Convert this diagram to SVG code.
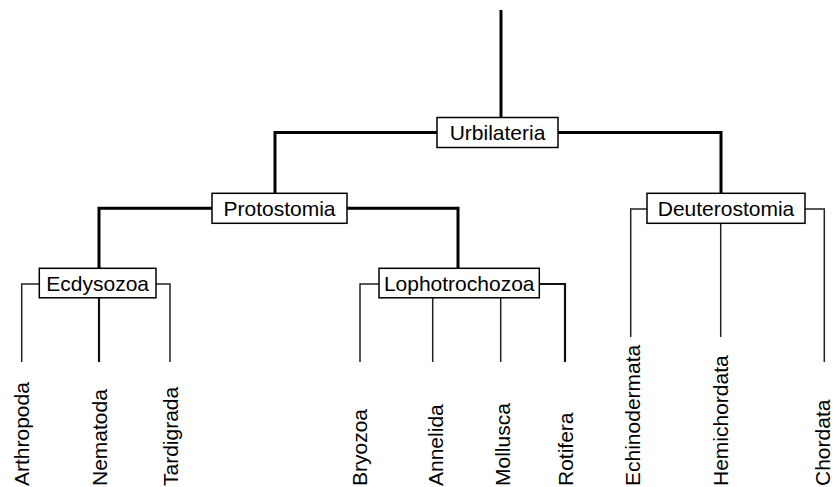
<svg xmlns="http://www.w3.org/2000/svg" width="835" height="487" viewBox="0 0 835 487">
<style>
.box{fill:#fff;stroke:#000;stroke-width:1.5}
.lbl{font-family:"Liberation Sans",Arial,sans-serif;font-size:21px;fill:#000}
.c{text-anchor:middle}
.thick{fill:none;stroke:#000;stroke-width:3}
.thin{fill:none;stroke:#222;stroke-width:1.5}
.mid{fill:none;stroke:#111;stroke-width:2.2}
</style>
<rect width="835" height="487" fill="#fff"/>
<g id="connectors">
<path class="thick" d="M501 10V117"/>
<path class="thick" d="M437 132.5H275V193M558 132.5H721V193"/>
<path class="thick" d="M212 208.3H99V268M347 208.3H458V268"/>
<path class="thin" d="M39 284H21.7V362M156 284H170V362"/>
<path class="mid" d="M99 298V362"/>
<path class="thin" d="M379 284H360V362M432.7 298V362M500.7 298V362"/>
<path class="mid" d="M539 284H565V362"/>
<path class="thin" d="M647 209H630.7V337"/>
<path class="thin" d="M720.7 223V337"/>
<path class="thin" d="M805 209H824.3V362"/>
</g>
<g id="Urbilateria"><rect class="box" x="437" y="117.5" width="121" height="30"/><text class="lbl c" x="497.5" y="140">Urbilateria</text></g>
<g id="Protostomia"><rect class="box" x="212" y="193.3" width="135" height="30"/><text class="lbl c" x="279.5" y="216">Protostomia</text></g>
<g id="Deuterostomia"><rect class="box" x="647" y="193.3" width="158" height="30"/><text class="lbl c" x="726" y="216">Deuterostomia</text></g>
<g id="Ecdysozoa"><rect class="box" x="39.3" y="268.3" width="116.7" height="29.5"/><text class="lbl c" x="97.7" y="291">Ecdysozoa</text></g>
<g id="Lophotrochozoa"><rect class="box" x="379" y="268.3" width="160.3" height="29.5"/><text class="lbl c" x="459.2" y="291">Lophotrochozoa</text></g>
<g id="Arthropoda"><text class="lbl" transform="translate(29,486) rotate(-90)">Arthropoda</text></g>
<g id="Nematoda"><text class="lbl" transform="translate(107,486) rotate(-90)">Nematoda</text></g>
<g id="Tardigrada"><text class="lbl" transform="translate(178,486) rotate(-90)">Tardigrada</text></g>
<g id="Bryozoa"><text class="lbl" transform="translate(366.5,486) rotate(-90)">Bryozoa</text></g>
<g id="Annelida"><text class="lbl" transform="translate(442.5,486) rotate(-90)">Annelida</text></g>
<g id="Mollusca"><text class="lbl" transform="translate(510,486) rotate(-90)">Mollusca</text></g>
<g id="Rotifera"><text class="lbl" transform="translate(573,486) rotate(-90)">Rotifera</text></g>
<g id="Echinodermata"><text class="lbl" transform="translate(640,486) rotate(-90)">Echinodermata</text></g>
<g id="Hemichordata"><text class="lbl" transform="translate(728.3,486) rotate(-90)">Hemichordata</text></g>
<g id="Chordata"><text class="lbl" transform="translate(830,486) rotate(-90)">Chordata</text></g>
</svg>
